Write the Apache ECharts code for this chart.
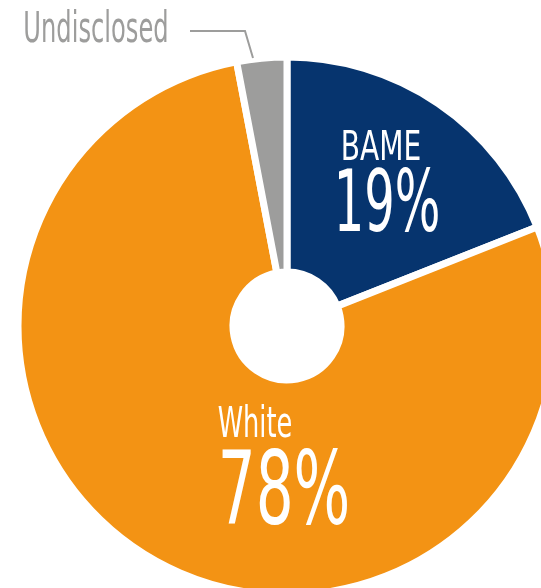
<!DOCTYPE html>
<html>
<head>
    <meta charset="utf-8">
    <title>Ethnicity</title>
    <script src="https://cdn.jsdelivr.net/npm/echarts@6/dist/echarts.min.js"></script>
</head>
<body style="margin:0;background:#fff;">
<div id="main" style="width: 541px;height:588px;"></div>
<script type="text/javascript">
    // values
    var groups = ['BAME', 'White', 'Undisclosed'];
    var shares = [19, 78, 3];
    var colours = ['#06346e', '#f39314', '#9d9d9c'];

    // no condensed light face offline, so squeeze the condensed one horizontally
    var font = "'DejaVu Sans Condensed', sans-serif";

    function txt(str, x, y, size, sx, colour) {
        return {
            type: 'text', x: x, y: y, scaleX: sx, silent: true, z: 100,
            style: {
                text: str, fill: colour, font: size + 'px ' + font,
                align: 'center', verticalAlign: 'middle'
            }
        };
    }

    var data = [];
    for (var i = 0; i < groups.length; i++) {
        data.push({ name: groups[i], value: shares[i], itemStyle: { color: colours[i] } });
    }

    var myChart = echarts.init(document.getElementById('main'));
    option = {
        animation: false,
        series: [{
            type: 'pie',
            center: [287, 326],
            radius: [54, 269],
            startAngle: 90,
            clockwise: true,
            silent: true,
            emphasis: { disabled: true },
            label: { show: false },
            labelLine: { show: false },
            itemStyle: { borderColor: '#fff', borderWidth: 7 },
            data: data
        }],
        graphic: [
            txt(groups[0], 381, 150, 40, 0.78, '#fff'),
            txt(shares[0] + '%', 387, 209, 86, 0.62, '#fff'),
            txt(groups[1], 255, 426, 42, 0.68, '#fff'),
            txt(shares[1] + '%', 284, 497, 102, 0.65, '#fff'),
            txt(groups[2], 96, 31, 42, 0.64, '#9d9d9c'),
            {
                type: 'polyline', silent: true, z: 100,
                shape: { points: [[190, 31], [245, 31], [253, 58]] },
                style: { stroke: '#9d9d9c', lineWidth: 2, fill: null }
            }
        ]
    };
    myChart.setOption(option);
</script>
</body>
</html>
